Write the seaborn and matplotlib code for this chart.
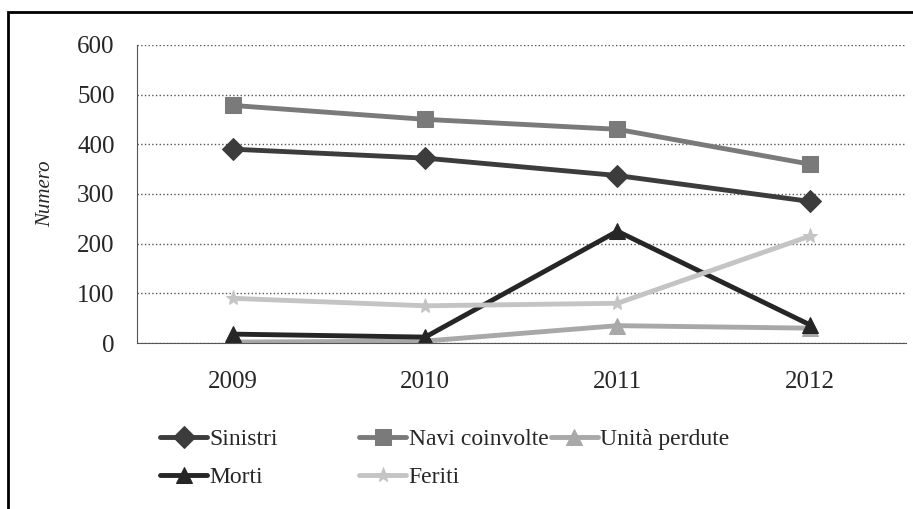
import pandas as pd
import matplotlib.pyplot as plt
import seaborn as sns
from matplotlib.patches import Rectangle

sns.set_style("white")
plt.rcParams["font.family"] = ["Liberation Serif", "DejaVu Serif"]

anni = ["2009", "2010", "2011", "2012"]
sinistri = [390, 372, 337, 285]
navi_coinvolte = [478, 450, 430, 360]
unita_perdute = [2, 4, 35, 30]
morti = [18, 12, 225, 37]
feriti = [90, 75, 80, 215]

serie = ["Sinistri", "Navi coinvolte", "Unità perdute", "Morti", "Feriti"]
valori = [sinistri, navi_coinvolte, unita_perdute, morti, feriti]
colori = ["#3c3c3c", "#7a7a7a", "#a8a8a8", "#262626", "#c4c4c4"]
marcatori = ["D", "s", "^", "^", "*"]

df = pd.DataFrame([(s, a, v) for s, vals in zip(serie, valori) for a, v in zip(anni, vals)],
                  columns=["serie", "anno", "valore"])
df["pos"] = df["anno"].map({a: i for i, a in enumerate(anni)})

fig = plt.figure(figsize=(9.13, 5.09), dpi=100)
ax = fig.add_axes([0.15, 0.326, 0.842, 0.586])

for s, c, m in zip(serie, colori, marcatori):
    sub = df[df["serie"] == s]
    sns.lineplot(data=sub, x="pos", y="valore", ax=ax, color=c, lw=3.5, marker=m,
                 markersize=11, markeredgecolor=c, label=s, legend=False)

ax.set_xlim(-0.5, 3.5)
ax.set_ylim(0, 600)
ax.set_yticks(range(0, 601, 100))
ax.set_xticks(range(len(anni)))
ax.set_xticklabels(anni)
ax.set_xticks([0.5, 1.5, 2.5, 3.5], minor=True)
ax.tick_params(axis="x", which="major", length=0, labelsize=18, pad=20)
ax.tick_params(axis="x", which="minor", length=5, color="#555555")
ax.tick_params(axis="y", labelsize=18, length=4, direction="out", pad=12)
ax.set_xlabel("")
ax.set_ylabel("Numero", fontsize=15, style="italic", labelpad=16)
ax.grid(axis="y", linestyle=":", color="#555555", lw=1)
for side in ["top", "right"]:
    ax.spines[side].set_visible(False)
ax.spines["left"].set_color("#555555")
ax.spines["bottom"].set_color("#555555")

h, l = ax.get_legend_handles_labels()
leg_kw = dict(loc="upper left", frameon=False, prop={"family": "Liberation Serif", "size": 17},
              handlelength=2.0, handletextpad=0.1, columnspacing=0.1, labelspacing=0.7)
fig.legend([h[0], h[3]], [l[0], l[3]], bbox_to_anchor=(0.152, 0.2), **leg_kw)
fig.legend([h[1], h[4], h[2]], [l[1], l[4], l[2]], ncol=2,
           bbox_to_anchor=(0.37, 0.2), **leg_kw)

fig.patches.append(Rectangle((0.009, -0.01), 1.0, 0.986, transform=fig.transFigure,
                             fill=False, edgecolor="black", lw=2))

fig.savefig("out.png", dpi=100)
